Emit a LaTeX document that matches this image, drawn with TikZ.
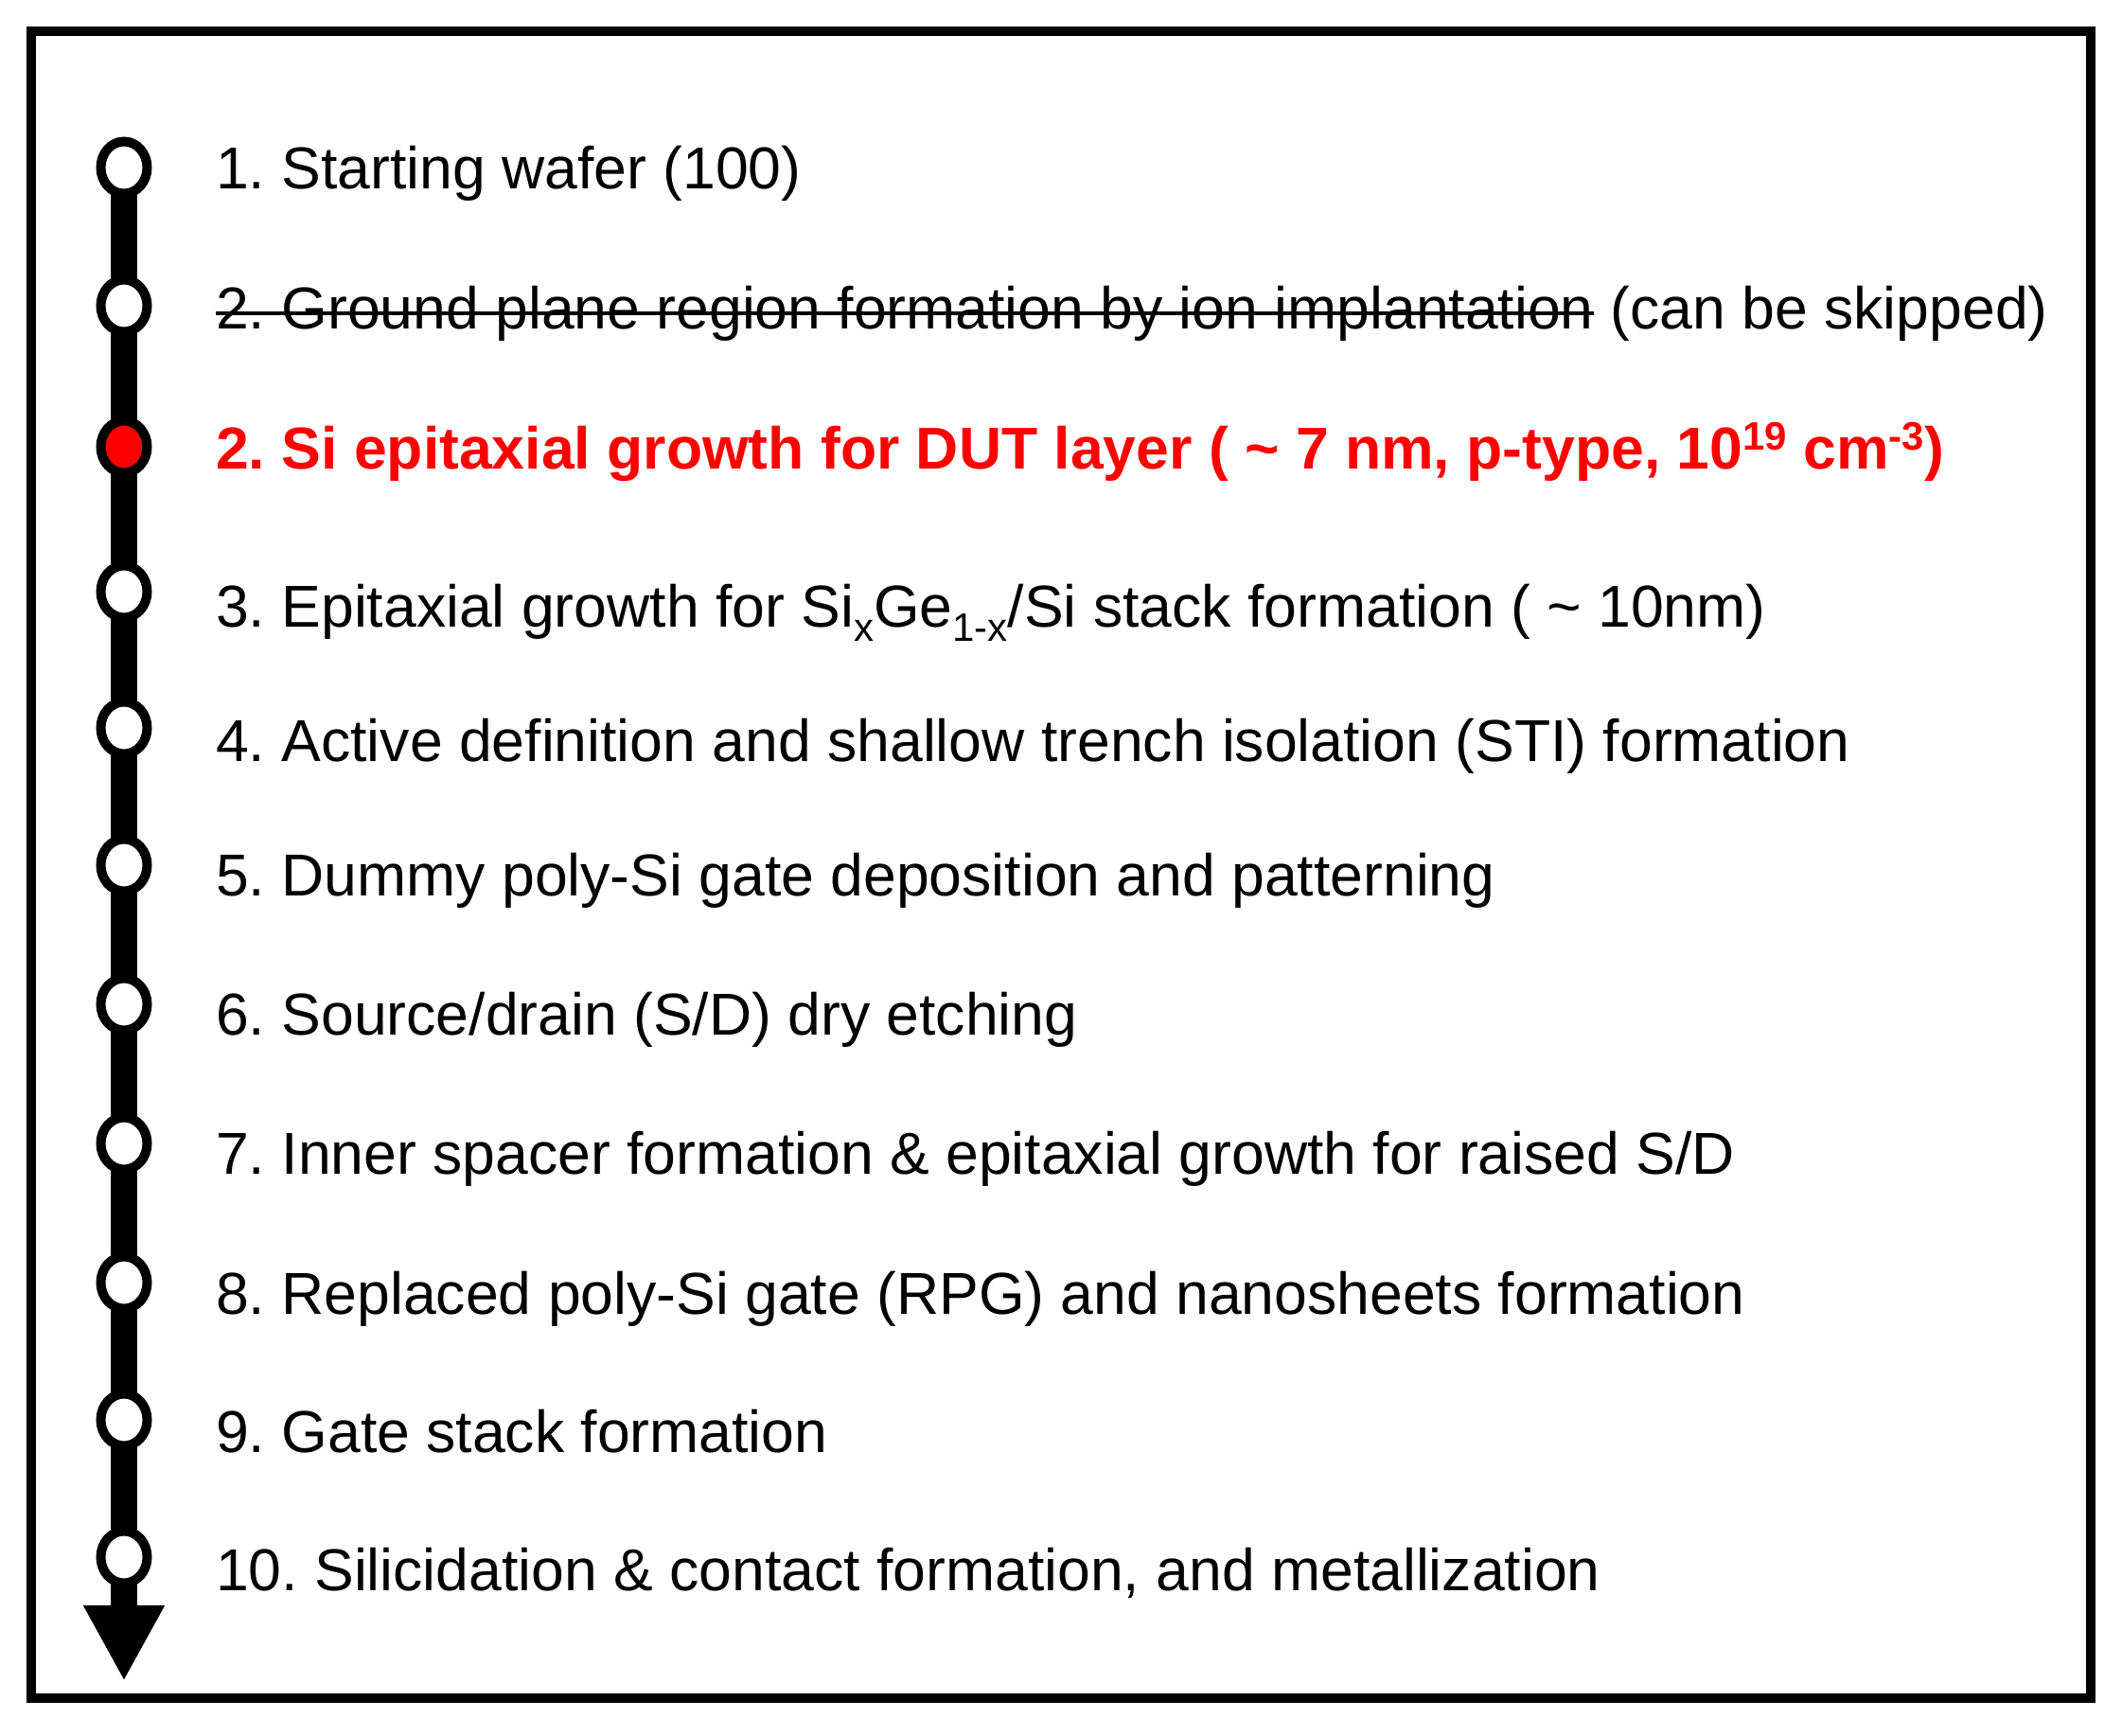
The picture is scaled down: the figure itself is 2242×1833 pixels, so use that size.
\documentclass[tikz,border=0pt]{standalone}
\usepackage{fontspec}
\setmainfont{Liberation Sans}
\usetikzlibrary{shapes.geometric,arrows.meta,calc}
\pgfdeclarelayer{background}
\pgfsetlayers{background,main}
\newcommand{\mysupx}[1]{\raisebox{20pt}{\fontsize{42}{42}\selectfont #1}}
\newcommand{\mysubx}[1]{\raisebox{-15pt}{\fontsize{42}{42}\selectfont #1}}
\frenchspacing
\begin{document}
\begin{tikzpicture}[x=1pt,y=1pt,
  stepdot/.style={ellipse,draw=black,line width=10pt,fill=white,minimum width=49pt,minimum height=55pt,inner sep=0pt},
  reddot/.style={stepdot,fill=red},
  steptext/.style={anchor=base west,inner sep=0pt,font=\fontsize{62.5}{75}\selectfont},
  redtext/.style={steptext,text=red,font=\fontsize{62.5}{75}\selectfont\bfseries},
  frameline/.style={line width=10pt},
  timeline/.style={line width=28pt,-{Triangle[width=80pt,length=80pt]}}
  ]
\useasboundingbox (0,0) rectangle (2242,-1833);
\draw[frameline] (33,-33) rectangle (2209,-1794);

\node[stepdot] (c1) at (131,-177) {};
\node[stepdot] (c2) at (131,-323) {};
\node[reddot]  (c3) at (131,-472) {};
\node[stepdot] (c4) at (131,-625) {};
\node[stepdot] (c5) at (131,-769) {};
\node[stepdot] (c6) at (131,-914) {};
\node[stepdot] (c7) at (131,-1061) {};
\node[stepdot] (c8) at (131,-1208) {};
\node[stepdot] (c9) at (131,-1355) {};
\node[stepdot] (c10) at (131,-1500) {};
\node[stepdot] (c11) at (131,-1645) {};
\coordinate (tip) at (131,-1776);

\begin{pgfonlayer}{background}
\draw[timeline] (c1.center) -- (tip);
\end{pgfonlayer}

\node[steptext] (t1) at (228,-199) {1. Starting wafer (100)};
\node[steptext] (t2a) at (228,-347) {2. Ground plane region formation by ion implantation};
\node[steptext] (t2b) at (t2a.base east) {\ (can be skipped)};
\draw[line width=4pt] ($(t2a.base west)+(0,16)$) -- ($(t2a.base east)+(0,16)$);
\node[redtext] (t3) at (228,-495) {2. Si epitaxial growth for DUT layer ( \textasciitilde{} 7 nm, p-type, 10\mysupx{19} cm\mysupx{-3})};
\node[steptext] (t4) at (228,-662) {3. Epitaxial growth for Si\mysubx{x}Ge\mysubx{1-x}/Si stack formation ( \textasciitilde{} 10nm)};
\node[steptext] (t5) at (228,-804) {4. Active definition and shallow trench isolation (STI) formation};
\node[steptext] (t6) at (228,-946) {5. Dummy poly-Si gate deposition and patterning};
\node[steptext] (t7) at (228,-1093) {6. Source/drain (S/D) dry etching};
\node[steptext] (t8) at (228,-1240) {7. Inner spacer formation \& epitaxial growth for raised S/D};
\node[steptext] (t9) at (228,-1388) {8. Replaced poly-Si gate (RPG) and nanosheets formation};
\node[steptext] (t10) at (228,-1534) {9. Gate stack formation};
\node[steptext] (t11) at (228,-1680) {10. Silicidation \& contact formation, and metallization};
\end{tikzpicture}
\end{document}
